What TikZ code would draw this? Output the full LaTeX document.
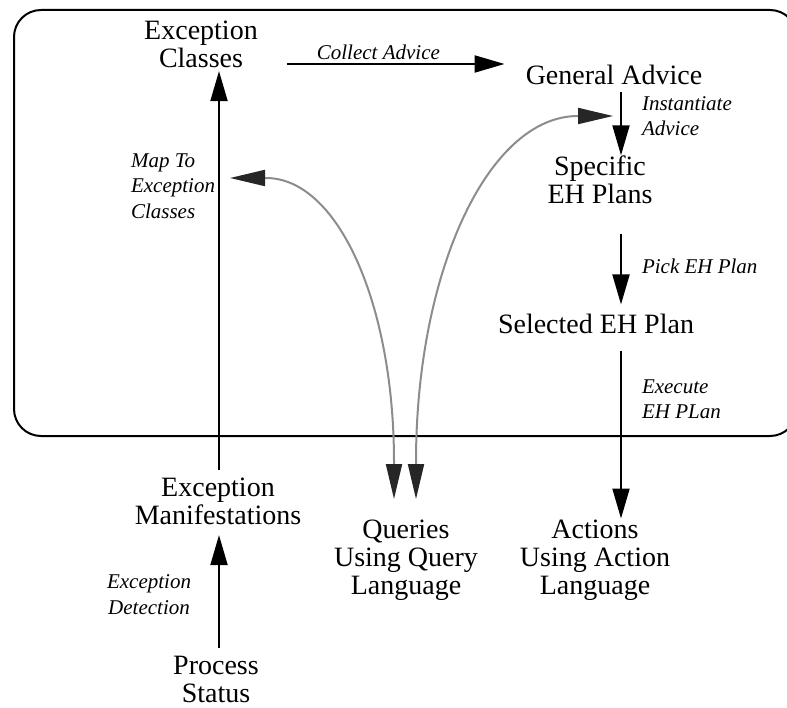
\documentclass[tikz,border=0pt]{standalone}
\usepackage{fontspec}
\setmainfont{Liberation Serif}
\usetikzlibrary{arrows.meta}

\begin{document}
\begin{tikzpicture}[x=1pt,y=-1pt,
  every node/.style={inner sep=0pt},
  main/.style={font=\fontsize{28}{28}\selectfont, align=center},
  lab/.style={font=\fontsize{21}{25.5}\selectfont\itshape, align=left},
  arr/.style={line width=2pt, -{Triangle[length=30pt,width=17pt]}},
  qry/.style={line width=2pt, draw=black!45, {Triangle[length=35pt,width=16pt,color=black!85]}-{Triangle[length=35pt,width=16pt,color=black!85]}}]
\useasboundingbox (0,0) rectangle (787,708);
\draw [line width=2pt, rounded corners=27pt] (14,10) rectangle (797,436);
\coordinate (leftCol) at (219,0);
\coordinate (rightCol) at (621,0);
\coordinate (topRow) at (0,64);
\node [main] (exClasses) at (201,44.5) {Exception\\Classes};
\node [main] (genAdvice) at (614,75) {General Advice};
\node [main] (specPlans) at (600,179.5) {Specific\\EH Plans};
\node [main] (selPlan) at (596,323.5) {Selected EH Plan};
\node [main] (exManif) at (218,501.5) {Exception\\Manifestations};
\node [main] (queries) at (406,560) {Queries\\Using Query\\Language};
\node [main] (actions) at (595,560) {Actions\\Using Action\\Language};
\node [main] (procStatus) at (216,679.5) {Process\\Status};
\draw [arr, shorten <=29pt, shorten >=21pt] (exClasses.east |- topRow) -- (genAdvice.west |- topRow)
  node [lab, pos=.45, above=3pt] (lblCollect) {Collect Advice};
\draw [arr, shorten <=7pt] (genAdvice.south -| rightCol) -- (specPlans.north -| rightCol)
  node [lab, pos=.44, right=20pt] (lblInst) {Instantiate\\Advice};
\draw [arr, shorten <=30pt, shorten >=9pt] (specPlans.south -| rightCol) -- (selPlan.north -| rightCol)
  node [lab, pos=.57, right=20pt] (lblPick) {Pick EH Plan};
\draw [arr, shorten <=17pt, shorten >=1pt] (selPlan.south -| rightCol) -- (actions.north -| rightCol)
  node [lab, pos=.353, right=20pt] (lblExec) {Execute\\EH PLan};
\draw [arr, shorten <=8pt, shorten >=3pt] (exManif.north -| leftCol) -- (exClasses.south -| leftCol)
  node [lab, pos=.712, left=3pt] (lblMap) {Map To\\Exception\\Classes};
\draw [arr, shorten <=8pt, shorten >=10pt] (procStatus.north -| leftCol) -- (exManif.south -| leftCol)
  node [lab, align=center, pos=.47, left=27pt] (lblDetect) {Exception\\Detection};
\coordinate (mapTip) at (230,178);
\coordinate (adviceTip) at (613,116);
\coordinate (qLeft) at (394,499);
\coordinate (qRight) at (416,499);
\draw [qry] (mapTip) -- ++(36,0) .. controls +(72,0) and +(0,-158) .. ([yshift=37pt]qLeft) -- (qLeft);
\draw [qry] (qRight) -- ++(0,-37) .. controls +(0,-190) and +(-90,0) .. ([xshift=-35pt]adviceTip) -- (adviceTip);
\end{tikzpicture}
\end{document}
